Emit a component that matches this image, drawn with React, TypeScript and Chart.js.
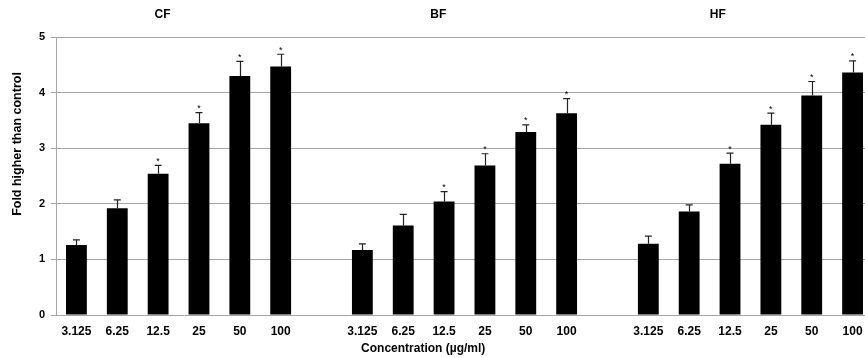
import { useEffect, useRef } from "react";
import { Chart, registerables } from "chart.js";
Chart.register(...registerables);

const concentrations = ["3.125", "6.25", "12.5", "25", "50", "100"];
const groupNames = ["CF", "BF", "HF"];
const cfMeans = [1.26, 1.92, 2.54, 3.45, 4.3, 4.47];
const cfErrors = [0.09, 0.15, 0.15, 0.19, 0.26, 0.22];
const bfMeans = [1.17, 1.61, 2.04, 2.69, 3.29, 3.63];
const bfErrors = [0.11, 0.2, 0.18, 0.21, 0.13, 0.26];
const hfMeans = [1.28, 1.86, 2.72, 3.42, 3.95, 4.36];
const hfErrors = [0.14, 0.12, 0.19, 0.21, 0.25, 0.21];
const significant = [false, false, true, true, true, true];
const yTicks = [0, 1, 2, 3, 4, 5];
const groupLabelPos = [2.11, 8.86, 15.7];
const xTitlePos = 8.49;
const yTitle = "Fold higher than control";
const xTitle = "Concentration (µg/ml)";

const labels = [...concentrations, "", ...concentrations, "", ...concentrations];
const means: (number | null)[] = [...cfMeans, null, ...bfMeans, null, ...hfMeans];
const errors: (number | null)[] = [...cfErrors, null, ...bfErrors, null, ...hfErrors];
const sigs: boolean[] = [...significant, false, ...significant, false, ...significant];

const FONT = "Arial, 'Liberation Sans', sans-serif";

export default function App() {
  const ref = useRef<HTMLCanvasElement>(null);
  useEffect(() => {
    document.body.style.margin = "0";
    const canvas = ref.current!;
    const overlay = {
      id: "overlay",
      afterDatasetsDraw(chart: any) {
        const ctx = chart.ctx;
        const xs = chart.scales.x;
        const ys = chart.scales.y;
        const meta = chart.getDatasetMeta(0);
        ctx.save();
        meta.data.forEach((el: any, i: number) => {
          const m = means[i];
          const e = errors[i];
          if (m == null || e == null) return;
          const top = ys.getPixelForValue(m + e);
          ctx.strokeStyle = "#222";
          ctx.lineWidth = 1.2;
          ctx.beginPath();
          ctx.moveTo(Math.round(el.x) + 0.5, el.y);
          ctx.lineTo(Math.round(el.x) + 0.5, top);
          ctx.moveTo(el.x - 3.5, top);
          ctx.lineTo(el.x + 3.5, top);
          ctx.stroke();
          if (sigs[i]) {
            ctx.fillStyle = "#000";
            ctx.font = `9px ${FONT}`;
            ctx.textAlign = "center";
            ctx.textBaseline = "alphabetic";
            ctx.fillText("*", el.x, top - 1.5);
          }
        });
        ctx.fillStyle = "#000";
        ctx.textAlign = "center";
        ctx.textBaseline = "middle";
        ctx.font = `bold 12px ${FONT}`;
        groupNames.forEach((g, k) => {
          ctx.fillText(g, xs.getPixelForValue(groupLabelPos[k]), 15);
        });
        ctx.fillText(xTitle, xs.getPixelForValue(xTitlePos), 349);
        ctx.save();
        ctx.translate(18, 144);
        ctx.rotate(-Math.PI / 2);
        ctx.font = `bold 12.5px ${FONT}`;
        ctx.fillText(yTitle, 0, 0);
        ctx.restore();
        ctx.restore();
      },
    };
    const chart = new Chart(canvas, {
      type: "bar",
      data: {
        labels,
        datasets: [
          {
            data: means as any,
            backgroundColor: "#000",
            borderWidth: 0,
            barPercentage: 0.51,
            categoryPercentage: 1,
          },
        ],
      },
      options: {
        animation: false,
        responsive: false,
        devicePixelRatio: 1,
        layout: { padding: { top: 37, right: 7, left: 0, bottom: 0 } },
        plugins: { legend: { display: false }, tooltip: { enabled: false }, title: { display: false } },
        scales: {
          x: {
            grid: { display: false, drawTicks: false, tickLength: 0 },
            border: { display: true, color: "#a6a6a6", width: 1 },
            ticks: {
              color: "#000",
              font: { family: FONT, size: 12, weight: "bold" },
              padding: 9,
              maxRotation: 0,
              autoSkip: false,
            },
            afterFit(scale: any) {
              scale.height = 43;
            },
          },
          y: {
            min: 0,
            max: 5,
            afterBuildTicks(scale: any) {
              scale.ticks = yTicks.map((v) => ({ value: v }));
            },
            grid: { color: "#a6a6a6", lineWidth: 1, tickLength: 5, drawTicks: true },
            border: { display: true, color: "#a6a6a6", width: 1 },
            ticks: {
              color: "#000",
              font: { family: FONT, size: 11, weight: "bold" },
              padding: 6,
            },
            afterFit(scale: any) {
              scale.width = 56;
            },
          },
        },
      },
      plugins: [overlay],
    });
    return () => chart.destroy();
  }, []);
  return (
    <div style={{ position: "absolute", left: 0, top: 0, width: 865, height: 358, overflow: "hidden", background: "#fff" }}>
      <canvas ref={ref} width={880} height={358} style={{ width: 880, height: 358, display: "block" }} />
    </div>
  );
}
